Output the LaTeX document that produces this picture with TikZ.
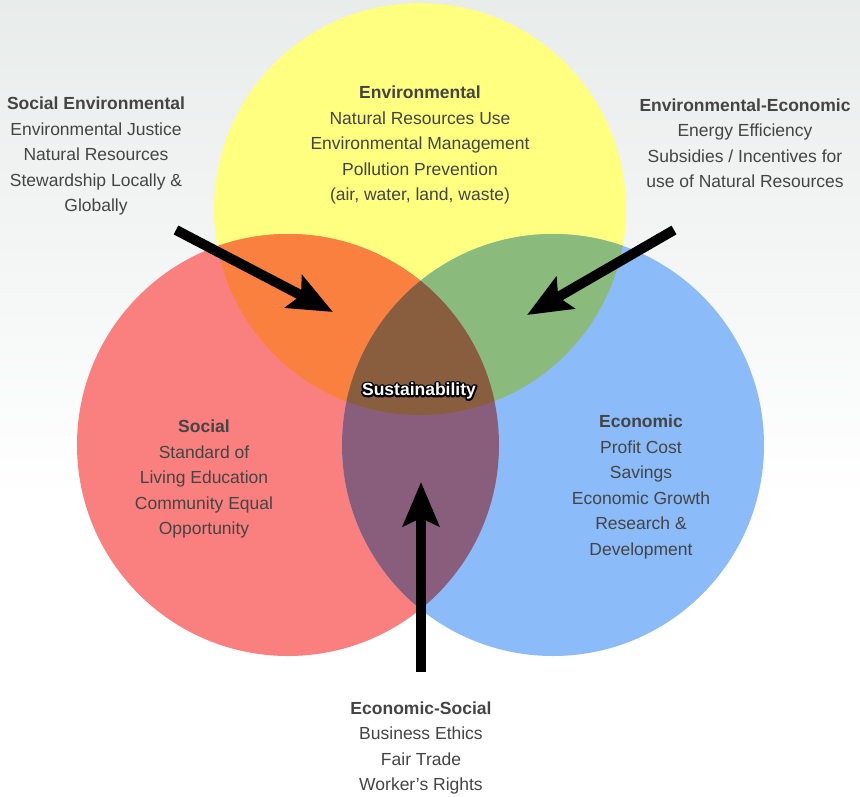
\documentclass[tikz,border=0pt]{standalone}
\usepackage{fontspec}
\setmainfont{Liberation Sans}
\usetikzlibrary{arrows.meta}
\definecolor{bgtop}{RGB}{232,236,235}
\definecolor{envyellow}{RGB}{255,255,128}
\definecolor{socred}{RGB}{250,128,128}
\definecolor{ecoblue}{RGB}{139,187,248}
\definecolor{envsoc}{RGB}{250,128,64}
\definecolor{enveco}{RGB}{139,187,124}
\definecolor{ecosoc}{RGB}{137,94,124}
\definecolor{sustain}{RGB}{137,94,62}
\definecolor{txtgray}{RGB}{68,68,68}
\begin{document}
\begin{tikzpicture}[x=1pt,y=-1pt]
        \tikzstyle{label}=[align=center,text=txtgray,font=\fontsize{17.5}{25.5}\selectfont]
        \tikzstyle{core}=[font=\fontsize{17.5}{20}\selectfont\bfseries]
        \tikzstyle{bigarrow}=[draw=black,line width=10pt,-{Stealth[length=44pt,width=36pt,inset=8pt]}]
        \useasboundingbox (0,0) rectangle (860,796);
        \shade[top color=bgtop,bottom color=white] (0,0) rectangle (860,500);
        \fill[white] (0,500) rectangle (860,796);
       \begin{scope}
         \coordinate (env) at (420,209);
         \coordinate (soc) at (288,445);
         \coordinate (eco) at (553,445);
         \fill[envyellow] (env) circle (206pt);
         \fill[socred] (soc) circle (211pt);
         \fill[ecoblue] (eco) circle (211pt);
         \begin{scope}
           \clip (env) circle (206pt);
           \fill[envsoc] (soc) circle (211pt);
           \fill[enveco] (eco) circle (211pt);
         \end{scope}
         \begin{scope}
           \clip (soc) circle (211pt);
           \fill[ecosoc] (eco) circle (211pt);
           \clip (eco) circle (211pt);
           \fill[sustain] (env) circle (206pt);
         \end{scope}
        \end{scope}
       \begin{scope}
         \node [label] (envtext) at (420,145) {\textbf{Environmental}\\Natural Resources Use\\Environmental Management\\Pollution Prevention\\(air, water, land, waste)};
         \node [label] (soctext) at (204,479) {\textbf{Social}\\Standard of\\Living Education\\Community Equal\\Opportunity};
         \node [label] (ecotext) at (641,487) {\textbf{Economic}\\Profit Cost\\Savings\\Economic Growth\\Research \&\\Development};
         \node [label] (envsoctext) at (96,156) {\textbf{Social Environmental}\\Environmental Justice\\Natural Resources\\Stewardship Locally \&\\Globally};
         \node [label] (envecotext) at (745,143) {\textbf{Environmental-Economic}\\Energy Efficiency\\Subsidies / Incentives for\\use of Natural Resources};
         \node [label] (ecosoctext) at (421,748) {\textbf{Economic-Social}\\Business Ethics\\Fair Trade\\Worker's Rights};
         % black outline drawn as stroked glyphs, white text on top
         \node [core,text=black] (susedge) at (419,391) {\special{pdf:code 1 Tr 3.6 w 1 j 1 J}Sustainability\special{pdf:code 0 Tr}};
         \node [core,text=white] (sustext) at (419,391) {Sustainability};
        \end{scope}
       \begin{scope}
         \coordinate (envsoctail) at (176,230);
         \coordinate (envsoctip) at (333,312);
         \coordinate (envecotail) at (674,230);
         \coordinate (envecotip) at (527,315);
         \coordinate (ecosoctail) at (421,672);
         \coordinate (ecosoctip) at (421,482);
         \path[bigarrow] (envsoctail) -- (envsoctip);
         \path[bigarrow] (envecotail) -- (envecotip);
         \path[bigarrow] (ecosoctail) -- (ecosoctip);
        \end{scope}
      \end{tikzpicture}
\end{document}
